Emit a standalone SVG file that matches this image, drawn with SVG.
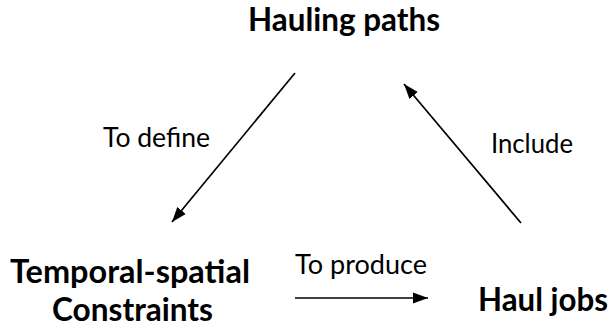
<svg xmlns="http://www.w3.org/2000/svg" width="611" height="330" viewBox="0 0 611 330">
  <style>
    .node { font-family: Lato, "Open Sans", "Liberation Sans", sans-serif; font-weight: bold; font-size: 32px; fill: #000; }
    .label { font-family: Lato, "Open Sans", "Liberation Sans", sans-serif; font-size: 26px; fill: #000; }
    .edge { stroke: #000; stroke-width: 1.7; fill: none; }
  </style>
  <defs>
    <marker id="arrow" markerUnits="userSpaceOnUse" markerWidth="16" markerHeight="12" refX="15" refY="6" orient="auto">
      <path d="M0,0.5 L15,6 L0,11.5 Z" fill="#000"/>
    </marker>
  </defs>

  <rect width="611" height="330" fill="#fff"/>

  <g id="hauling-paths">
    <text class="node" x="248" y="31" textLength="192" lengthAdjust="spacingAndGlyphs">Hauling paths</text>
  </g>

  <g id="temporal-spatial-constraints">
    <text class="node" x="10" y="283" textLength="240" lengthAdjust="spacingAndGlyphs">Temporal-spatial</text>
    <text class="node" x="52" y="321" textLength="161" lengthAdjust="spacingAndGlyphs">Constraints</text>
  </g>

  <g id="haul-jobs">
    <text class="node" x="478" y="311" textLength="130" lengthAdjust="spacingAndGlyphs">Haul jobs</text>
  </g>

  <g id="connectors">
    <line class="edge" x1="295" y1="73" x2="172" y2="222" marker-end="url(#arrow)"/>
    <line class="edge" x1="521" y1="223" x2="404" y2="84" marker-end="url(#arrow)"/>
    <line class="edge" x1="295" y1="298" x2="428" y2="298" marker-end="url(#arrow)"/>
    <text class="label" x="103" y="147" textLength="107" lengthAdjust="spacingAndGlyphs">To define</text>
    <text class="label" x="491" y="153" textLength="82" lengthAdjust="spacingAndGlyphs">Include</text>
    <text class="label" x="295" y="274" textLength="132" lengthAdjust="spacingAndGlyphs">To produce</text>
  </g>
</svg>
